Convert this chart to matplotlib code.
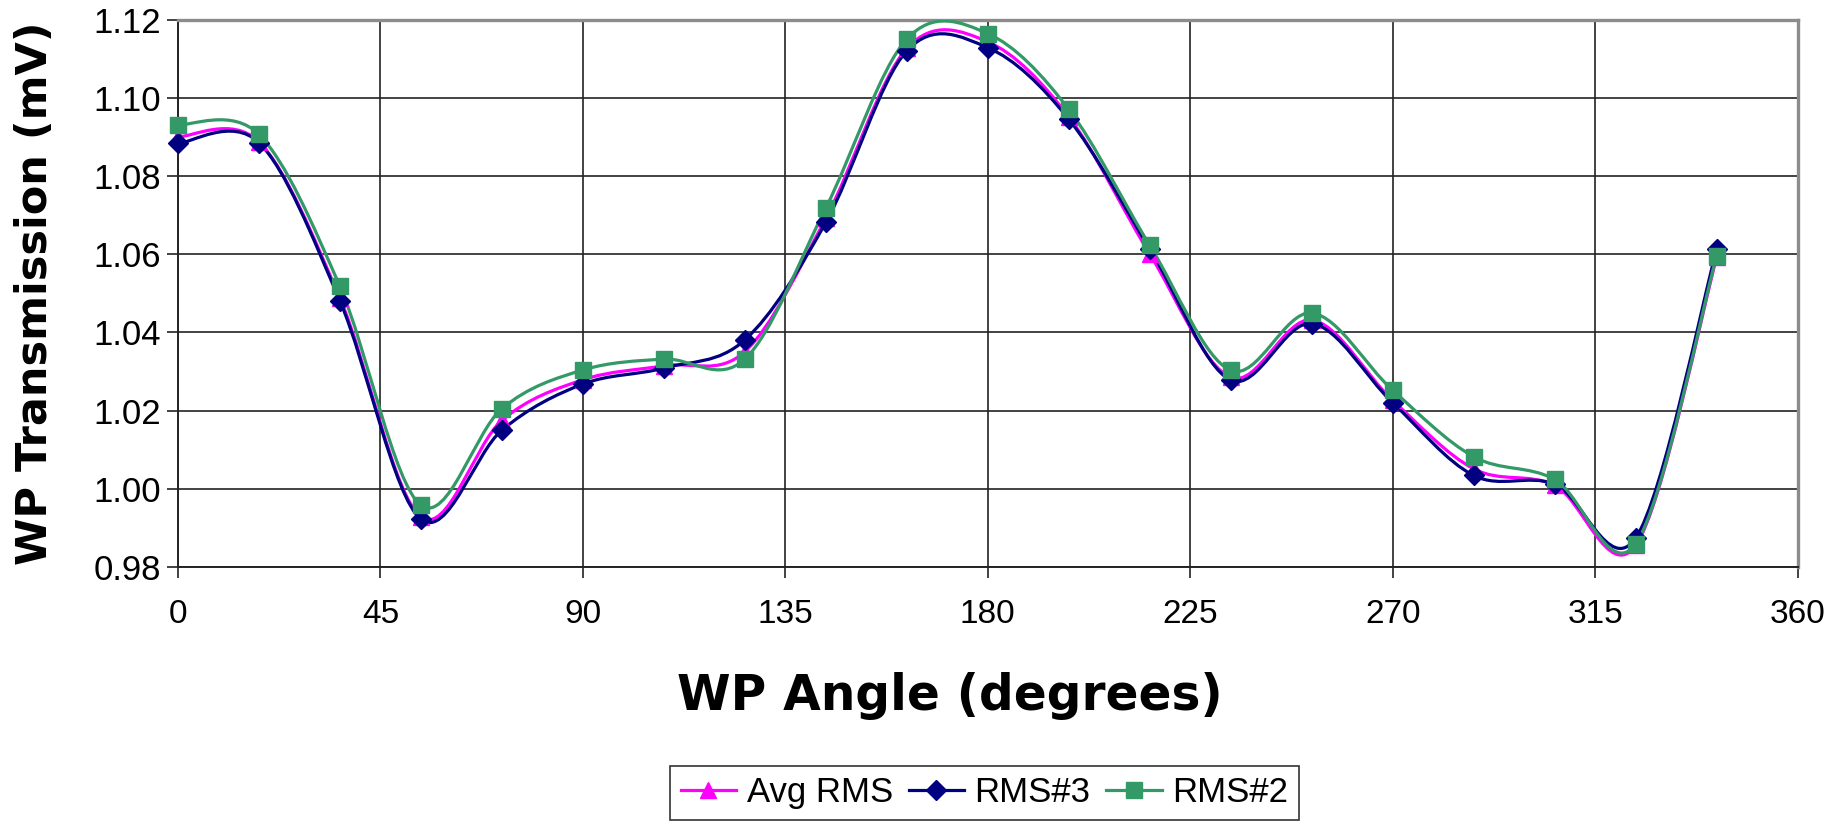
import matplotlib
matplotlib.use('Agg')
import matplotlib.pyplot as plt
import numpy as np
from matplotlib.path import Path
from matplotlib.patches import PathPatch
from matplotlib.lines import Line2D
from matplotlib.ticker import FormatStrFormatter

plt.rcParams['font.family'] = ['Liberation Sans', 'DejaVu Sans']

# waveplate angle (degrees) and measured transmission (mV)
angle = [0, 18, 36, 54, 72, 90, 108, 126, 144, 162,
         180, 198, 216, 234, 252, 270, 288, 306, 324, 342]
avg_rms = [1.0901, 1.0888, 1.0488, 0.9928, 1.0175, 1.0279, 1.0315, 1.0351, 1.0692, 1.1127,
           1.1144, 1.0952, 1.0601, 1.0285, 1.0432, 1.0226, 1.0051, 1.0009, 0.9855, 1.0592]
rms3 = [1.0884, 1.0886, 1.0481, 0.9922, 1.0150, 1.0268, 1.0309, 1.0381, 1.0682, 1.1121,
        1.1129, 1.0946, 1.0614, 1.0278, 1.0423, 1.0220, 1.0034, 1.0012, 0.9874, 1.0613]
rms2 = [1.0932, 1.0907, 1.0518, 0.9958, 1.0205, 1.0304, 1.0332, 1.0332, 1.0719, 1.1151,
        1.1165, 1.0971, 1.0623, 1.0303, 1.0450, 1.0252, 1.0082, 1.0024, 0.9859, 1.0597]

series_names = ['Avg RMS', 'RMS#3', 'RMS#2']
series_colors = ['#FF00FF', '#000080', '#339966']
series_markers = ['^', 'D', 's']
series_msize = [12, 10.5, 11.5]


def smooth_path(x, y):
    """Spline through the points as cubic Bezier segments (Excel style smoothing)."""
    pts = np.column_stack([x, y]).astype(float)
    ext = np.vstack([pts[0], pts, pts[-1]])
    verts = [pts[0]]
    codes = [Path.MOVETO]
    for i in range(len(pts) - 1):
        p_prev, p0, p1, p_next = ext[i], ext[i + 1], ext[i + 2], ext[i + 3]
        c1 = p0 + (p1 - p_prev) / 6
        c2 = p1 - (p_next - p0) / 6
        verts += [c1, c2, p1]
        codes += [Path.CURVE4] * 3
    return Path(verts, codes)


fig = plt.figure(figsize=(18.4, 8.24), dpi=100)
ax = fig.add_axes([0.0967, 0.312, 0.8803, 0.6638])

handles = []
for vals, name, color, marker, ms in zip([avg_rms, rms3, rms2], series_names,
                                         series_colors, series_markers, series_msize):
    ax.add_patch(PathPatch(smooth_path(angle, vals), fill=False, edgecolor=color,
                           linewidth=2.3, zorder=3))
    ax.plot(angle, vals, linestyle='none', marker=marker, markersize=ms,
            color=color, markeredgecolor=color, zorder=4, clip_on=False)
    handles.append(Line2D([], [], color=color, linewidth=2.3, marker=marker,
                          markersize=ms, label=name))

ax.set_xlim(0, 360)
ax.set_ylim(0.98, 1.12)
ax.set_xticks(np.arange(0, 361, 45))
ax.set_yticks(np.arange(0.98, 1.121, 0.02))
ax.yaxis.set_major_formatter(FormatStrFormatter('%.2f'))
ax.grid(True, color='#222222', linewidth=1.2, zorder=1)
ax.set_axisbelow(True)

ax.tick_params(axis='both', direction='out', length=8, width=1.2, color='#222222')
ax.tick_params(axis='x', pad=15, labelsize=24)
ax.tick_params(axis='y', pad=4, labelsize=25)

for side in ['left', 'bottom']:
    ax.spines[side].set_color('#222222')
    ax.spines[side].set_linewidth(1.4)
for side in ['top', 'right']:
    ax.spines[side].set_color('#8c8c8c')
    ax.spines[side].set_linewidth(2.4)

ax.set_xlabel('WP Angle (degrees)', fontsize=35, fontweight='bold', family='DejaVu Sans')
ax.set_ylabel('WP Transmission (mV)', fontsize=31, fontweight='bold', family='DejaVu Sans')
ax.xaxis.set_label_coords(0.4765, -0.192)
ax.yaxis.set_label_coords(-0.0753, 0.5)

leg = fig.legend(handles=handles, loc='center', bbox_to_anchor=(0.535, 0.038), ncol=3,
                 fontsize=25, frameon=True, fancybox=False, handlelength=1.6,
                 columnspacing=0.45, handletextpad=0.3, borderpad=0.3)
leg.get_frame().set_edgecolor('black')
leg.get_frame().set_linewidth(1.2)

fig.savefig('out.png', dpi=100, facecolor='white')
